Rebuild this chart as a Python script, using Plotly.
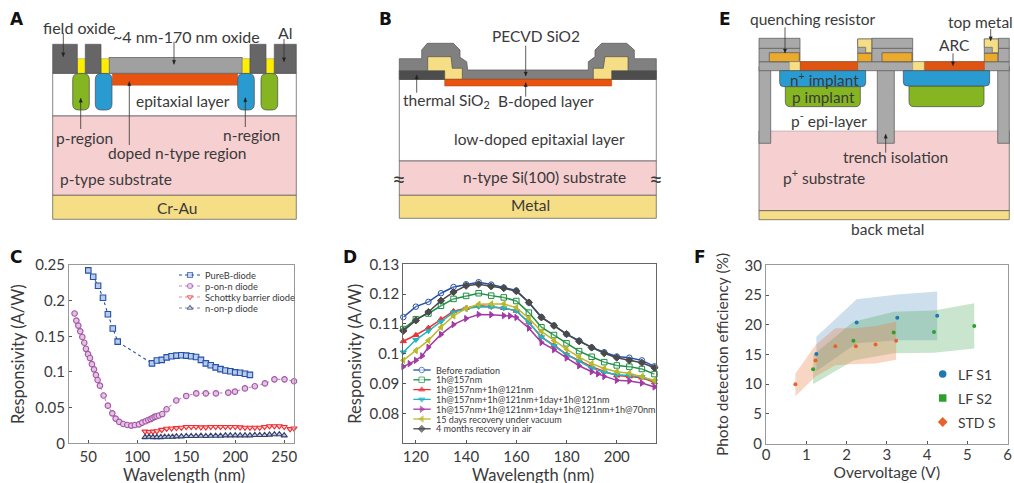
import plotly.graph_objects as go

# ---------- panel C data ----------
pureb_x = [50,55,60,65,70,75,80,115,120,125,130,135,140,145,150,155,160,165,170,175,180,185,190,195,200,205,210,215]
pureb_y = [.2425,.2336,.221,.204,.181,.161,.1425,.112,.116,.117,.1205,.122,.123,.1235,.123,.122,.121,.117,.112,.1095,.1065,.104,.102,.101,.0995,.099,.0975,.096]
ponn_x = [36,37.8,39.8,41.8,43.9,45.9,47.6,49.7,51.7,53.7,55.8,57.8,59.5,61.9,65.6,70,74.5,77.9,81.6,85.7,89.8,93.9,97.6,101.7,105,108.5,111.2,113.6,115.6,117.7,119.7,122.1,125.5,129.9,139.8,150,160.2,170,180.3,192.9,199.7,209.9,220,230.3,240,250.3,260]
ponn_y = [.182,.172,.165,.157,.149,.141,.1325,.125,.1195,.111,.1037,.0958,.0888,.0808,.067,.0528,.042,.0346,.03,.027,.0257,.0248,.0257,.0266,.029,.031,.0327,.034,.0355,.037,.038,.039,.041,.0477,.06,.0664,.07,.07,.07,.071,.0724,.077,.08,.084,.0897,.0897,.087]
schottky_x = [108,112,116,120,125,130,135,140,145,150,155,160,165,170,175,180,185,190,195,200,205,210,215,220,225,230,235,240,245,250,256,260]
schottky_y = [.0165,.016,.0165,.017,.019,.0205,.021,.0215,.022,.023,.023,.023,.0225,.0225,.023,.023,.023,.023,.023,.023,.0225,.022,.022,.022,.022,.023,.024,.024,.024,.023,.02,.021]
nonp_x = [108,112,116,120,124,128,132,136,140,145,150,155,160,165,170,175,180,185,190,195,200,205,210,215,220,225,230,235,240,245,250]
nonp_y = [.0085,.009,.0085,.0085,.0085,.009,.009,.009,.0095,.0095,.01,.01,.01,.0105,.01,.0105,.0105,.0105,.011,.011,.011,.011,.011,.011,.0115,.0115,.0115,.012,.0125,.0125,.011]

# ---------- panel D data ----------
wl = [115,120,125,130,135,140,145,150,155,160,165,170,175,180,185,190,195,200,205,210,215]
wl_purple = [115,117.5,120,122.5,125,130,135,140,145,150,155,157.5,160,165,170,175,180,185,190,192.5,195,200,205,210,215]
before = [.1123,.1158,.1174,.1203,.1224,.1233,.124,.1232,.1222,.1212,.1172,.1123,.1095,.1066,.1044,.1021,.1005,.0991,.0987,.0978,.0958]
h157 = [.1083,.1116,.1135,.1161,.1184,.1194,.1203,.1195,.1189,.1177,.1138,.1089,.1063,.1035,.1009,.099,.0972,.0961,.0957,.0949,.0932]
h157_121 = [.1042,.1063,.1087,.1116,.1143,.1153,.1162,.1158,.1153,.1144,.1105,.1056,.1029,.0998,.0977,.0957,.0941,.0927,.0924,.092,.0904]
h157_121_day = [.1005,.1047,.1077,.1108,.1139,.1151,.1158,.1157,.1153,.1144,.1105,.1056,.1027,.0997,.0975,.0952,.0938,.093,.0927,.0922,.0908]
h157_121_day_70 = [.0957,.0967,.0978,.0993,.1022,.1065,.1098,.1118,.1132,.1131,.1128,.1127,.1122,.1086,.1038,.1014,.0986,.096,.094,.0933,.0924,.0911,.0909,.0902,.0889]
rec_vac = [.0978,.1011,.1045,.1089,.1127,.1152,.1166,.1167,.1167,.1155,.1119,.1075,.1044,.1016,.0989,.0967,.0951,.094,.0935,.0924,.0911]
rec_air = [.1077,.1112,.114,.1178,.1207,.1228,.1233,.1226,.122,.121,.1172,.1122,.1094,.1066,.1042,.1021,.1002,.0987,.0978,.097,.0953]

# ---------- panel F data ----------
s1_x = [1.25,2.25,3.26,4.25]
s1_y = [15.1,20.4,21.2,21.5]
s1_up = [18.0,24.3,25.1,25.6]
s1_lo = [12.2,16.9,17.4,17.4]
s2_x = [1.17,2.17,3.17,4.17,5.17]
s2_y = [12.5,17.3,18.7,18.8,19.8]
s2_up = [14.9,20.5,22.2,22.4,23.6]
s2_lo = [10.0,14.0,15.2,15.3,16.0]
st_x = [.73,1.23,1.72,2.23,2.72,3.23]
st_y = [10,14,16.4,16.4,16.7,17.3]
st_up = [11.8,16.6,19.4,19.4,19.8,20.5]
st_lo = [8.0,11.3,13.2,13.4,13.5,14.1]

FONT = "Lato"
INK = "#3a3a3a"
W, H = 1014, 483

fig = go.Figure()

# ---------- helpers on the full-canvas pixel overlay ----------
shapes, notes = [], []
def poly(points, fill, line="#555555", lw=0.7):
    d = "M" + " L".join(f"{x:.1f},{y:.1f}" for x, y in points) + " Z"
    shapes.append(dict(type="path", path=d, xref="x4", yref="y4", fillcolor=fill,
                       line=dict(color=line, width=lw)))
def rect(x0, y0, x1, y1, fill, line="#555555", lw=0.7):
    poly([(x0, y0), (x1, y0), (x1, y1), (x0, y1)], fill, line, lw)
def rr(x0, y0, x1, y1, r, fill, top=True):
    rt = r if top else 0.5
    d = (f"M{x0},{y0+rt} Q{x0},{y0} {x0+rt},{y0} L{x1-rt},{y0} Q{x1},{y0} {x1},{y0+rt} "
         f"L{x1},{y1-r} Q{x1},{y1} {x1-r},{y1} L{x0+r},{y1} Q{x0},{y1} {x0},{y1-r} Z")
    shapes.append(dict(type="path", path=d, xref="x4", yref="y4", fillcolor=fill,
                       line=dict(color="#4a4a4a", width=0.7)))
def arrow(x, y0, y1):
    s = 1 if y1 > y0 else -1
    shapes.append(dict(type="line", x0=x, x1=x, y0=y0, y1=y1, xref="x4", yref="y4",
                       line=dict(color="#333333", width=0.8)))
    poly([(x-1.7, y1-s*4), (x+1.7, y1-s*4), (x, y1)], "#222222", "#222222", 0.3)
def text(x, y, t, size=15.5, bold=False, anchor="center", color=INK, family=FONT):
    notes.append(dict(x=x, y=y, xref="x4", yref="y4", text=t,
                      showarrow=False, xanchor=anchor, yanchor="middle",
                      font=dict(family=family, size=size, color=color, weight=700 if bold else 400)))
def letter(x, y, t):
    text(x, y, t, 17, True, family="DejaVu Sans", color="#111111")

GR_D, GR_M, GR_L = "#666666", "#a0a0a0", "#a9a9a9"
YEL, ORG, BLU, GRN, PNK, GLD, AMB = "#ffee00", "#e8540f", "#2a9bd0", "#85b521", "#f6cfd1", "#f5de85", "#ebaa2c"

# ---------- diagram A ----------
rect(52.7, 73.3, 296.3, 116, "white")
rect(52.7, 116, 296.3, 195.3, PNK)
rect(52.7, 195.3, 296.3, 219.3, GLD)
rect(109, 57.5, 242.3, 73.3, GR_M)
for a, b in [(77.3, 85.3), (101, 109), (242.3, 250), (266, 274.3)]:
    rect(a, 58.7, b, 73.3, YEL, "#777777", 0.4)
for a, b in [(52.7, 77.3), (85.3, 101), (250, 266), (274.3, 296.3)]:
    rect(a, 44.3, b, 73.3, GR_D)
rect(112.3, 74, 237.7, 85.3, ORG, "#b5440f", 0.4)
rr(72.7, 73.5, 89.3, 110, 6, GRN)
rr(95.3, 73.5, 112, 110, 6, BLU)
rr(237.7, 73.5, 254.3, 110, 6, BLU)
rr(261, 73.5, 277.7, 110, 6, GRN)
arrow(63.3, 33, 56.7); arrow(174, 41.7, 64.3); arrow(284, 39, 61.7)
arrow(80.7, 129, 98.3); arrow(129.3, 145, 81.7); arrow(245.3, 127, 97.7)
text(78.5, 27.3, "field oxide", 16); text(186.7, 36, "~4 nm-170 nm oxide", 16); text(285, 32, "Al", 16)
text(183, 101, "epitaxial layer"); text(84, 138, "p-region"); text(251.7, 135, "n-region")
text(177, 153, "doped n-type region"); text(116, 179, "p-type substrate"); text(177, 208, "Cr-Au")
letter(17, 19, "A")

# ---------- diagram B ----------
bx = lambda z: z / 3 + 340
rect(399.3, 79.5, 656.3, 161, "white")
rect(399.3, 161, 656.3, 195.3, PNK)
rect(399.3, 195.3, 656.3, 218.3, GLD)
pecvd = [(178,176),(245,176),(245,150),(262,130),(340,130),(360,150),(360,172),(380,185),(383,210),(745,210),(745,185),(765,170),(765,150),(785,130),(860,130),(883,150),(883,176),(949,176),(949,238),(178,238)]
poly([(bx(x), y/3) for x, y in pecvd], "#808080")
rect(399.3, 70.7, 444.7, 79.3, "#4d4d4d"); rect(611.7, 70.7, 656.3, 79.3, "#4d4d4d")
for c in ([(263,170),(333,170),(337,205),(367,205),(367,238),(314,238),(314,212),(263,212)],
          [(864,170),(795,170),(790,205),(760,205),(760,238),(815,238),(815,212),(864,212)]):
    poly([(bx(x), y/3) for x, y in c], GLD, "#444444", 0.6)
rect(444.7, 79.3, 611.7, 86, ORG, "#a8400f", 0.5)
arrow(525.7, 45.7, 76); arrow(525.7, 96.7, 82.7); arrow(416.7, 92.7, 75)
text(536, 35.7, "PECVD SiO2"); text(446, 101, "thermal SiO<sub>2</sub>"); text(546, 101, "B-doped layer")
text(539, 139.3, "low-doped epitaxial layer"); text(544, 176.7, "n-type Si(100) substrate"); text(530.7, 205, "Metal")
text(399.3, 177, "≈", 24); text(656.3, 177, "≈", 24)
letter(385, 19, "B")

# ---------- diagram E ----------
ex = lambda z: z / 3 + 680
def erect(x0, y0, x1, y1, fill, line="#555555", lw=0.7):
    rect(ex(x0), y0/3, ex(x1), y1/3, fill, line, lw)
erect(237, 392, 988, 632, PNK)
erect(237, 212, 988, 392, "white", "#ffffff", 0)
erect(237, 632, 988, 659, GLD)
for a, b in [(237, 272), (592, 643), (953, 988)]:
    erect(a, 200, b, 430, GR_L)
erect(237, 185, 988, 212, GR_L)
erect(237, 115, 360, 185, GR_L); erect(575, 115, 698, 185, GR_L); erect(955, 115, 988, 185, GR_L)
erect(533, 117, 575, 160, GR_L); erect(913, 117, 955, 160, GR_L)
for a, b in [(237, 360), (575, 698), (955, 988)]:
    shapes.append(dict(type="line", x0=ex(a), x1=ex(b), y0=145/3, y1=145/3, xref="x4", yref="y4", line=dict(color="#555555", width=0.8)))
erect(268, 158, 358, 185, AMB); erect(606, 158, 696, 185, AMB)
erect(533, 160, 575, 185, AMB); erect(913, 160, 953, 185, AMB)
for off in (0, 380):
    poly([(ex(533+off), 117/3), (ex(575+off), 117/3), (ex(575+off), 158/3), (ex(557+off), 158/3),
          (ex(557+off), 142/3), (ex(533+off), 142/3)], GLD, "#555555", 0.6)
erect(360, 185, 533, 212, "#dd5511", "#a8400f", 0.5); erect(733, 185, 913, 212, "#dd5511", "#a8400f", 0.5)
erect(328, 185, 360, 212, GLD, "#777777", 0.4); erect(698, 185, 733, 212, GLD, "#777777", 0.4)
rr(ex(316), 258/3, ex(541), 320/3, 5, GRN, top=False); rr(ex(687), 258/3, ex(912), 320/3, 5, GRN, top=False)
rr(ex(299), 212/3, ex(557), 260/3, 4, BLU, top=False); rr(ex(670), 212/3, ex(929), 258/3, 4, BLU, top=False)
arrow(785, 27.3, 53); arrow(990.7, 29, 40.7); arrow(953, 53.3, 65.7); arrow(885.7, 152.7, 134.3)
text(813.3, 19, "quenching resistor"); text(980.7, 22, "top metal"); text(954.3, 45, "ARC")
text(824, 79, "n<sup>+</sup> implant", 15.3); text(823.3, 96.5, "p implant", 15.3)
text(829.3, 119.3, "p<sup>-</sup> epi-layer"); text(895.7, 157, "trench isolation")
text(824, 176.7, "p<sup>+</sup> substrate"); text(887.3, 228.7, "back metal")
letter(725, 19, "E")

# ---------- panel letters for charts ----------
letter(16, 257, "C"); letter(350, 257, "D"); letter(700, 257, "F")

# ---------- x-axis titles of C and D sit at the very foot of the page ----------
text(184, 475, "Wavelength (nm)", 16.5)
text(533, 475, "Wavelength (nm)", 16.5)

# ---------- panel C ----------
def series(x, y, name, color, symbol, xa, ya, dash="dot", lw=1.1, size=6, mlw=1.1, fill=None, mcolor=None):
    fig.add_trace(go.Scatter(x=x, y=y, name=name, mode="lines+markers", xaxis=xa, yaxis=ya, showlegend=False,
                             cliponaxis=False, line=dict(color=color, width=lw, dash=dash),
                             marker=dict(symbol=symbol, size=size, color=fill or "rgba(255,255,255,0.35)",
                                         line=dict(color=mcolor or color, width=mlw))))

c_style = [("PureB-diode", "#2350a8", "square", pureb_x, pureb_y, "#2350a8", "#b9cbe8"),
           ("p-on-n diode", "#a655a6", "circle", ponn_x, ponn_y, "#c48ac4", "#e2c4e2"),
           ("Schottky barrier diode", "#ee3035", "triangle-down", schottky_x, schottky_y, "#f58a8d", "#fbd0d1"),
           ("n-on-p diode", "#33406f", "triangle-up", nonp_x, nonp_y, "#8088a8", "#c4c9da")]
for name, col, sym, x, y, lite, fillc in c_style:
    series(x, y, name, lite, sym, "x", "y", size=5.5, mlw=1.1, fill=fillc, mcolor=col)

for i, (name, col, sym, _, _, lite, fillc) in enumerate(c_style):
    yk = 275 + i * 11
    fig.add_trace(go.Scatter(x=[179, 190, 200], y=[yk, yk, yk], xaxis="x4", yaxis="y4", mode="lines+markers",
                             showlegend=False, hoverinfo="skip",
                             line=dict(color=lite, width=1.2, dash="dot"),
                             marker=dict(symbol=[sym] * 3, size=[0, 5, 0], color=fillc,
                                         line=dict(color=col, width=1.1))))
    text(203, yk, name, 9.3, anchor="left")

# ---------- panel D ----------
d_style = [("Before radiation", "#2450a8", "circle", wl, before),
           ("1h@157nm", "#1f8f45", "square", wl, h157),
           ("1h@157nm+1h@121nm", "#f03035", "triangle-up", wl, h157_121),
           ("1h@157nm+1h@121nm+1day+1h@121nm", "#22b5c0", "triangle-down", wl, h157_121_day),
           ("1h@157nm+1h@121nm+1day+1h@121nm+1h@70nm", "#a23aa6", "triangle-right", wl_purple, h157_121_day_70),
           ("15 days recovery under vacuum", "#bdb72a", "triangle-left", wl, rec_vac),
           ("4 months recovery in air", "#4a4a4a", "diamond", wl, rec_air)]
for name, col, sym, x, y in d_style:
    filled = sym.startswith("triangle") or sym == "diamond"
    series(x, y, name, col, sym, "x2", "y2", dash="solid", lw=1.5, size=5.5, mlw=1,
           fill=col if filled else "rgba(255,255,255,0.2)")
for i, (name, col, sym, _, _) in enumerate(d_style):
    yk = 370 + i * 9.8
    filled = sym.startswith("triangle") or sym == "diamond"
    fig.add_trace(go.Scatter(x=[413.3, 421.7, 430.7], y=[yk, yk, yk], xaxis="x4", yaxis="y4", mode="lines+markers",
                             showlegend=False, hoverinfo="skip", line=dict(color=col, width=1.3),
                             marker=dict(symbol=[sym] * 3, size=[0, 5.5, 0], color=col if filled else "white",
                                         line=dict(color=col, width=1))))
    text(434, yk, name, 9.05, anchor="left")

# ---------- panel F ----------
f_style = [("LF S1", "#1f77b4", "circle", s1_x, s1_y, s1_up, s1_lo, "rgba(70,135,190,0.27)"),
           ("LF S2", "#2ca02c", "square", s2_x, s2_y, s2_up, s2_lo, "rgba(60,160,70,0.27)"),
           ("STD S", "#e8622c", "diamond", st_x, st_y, st_up, st_lo, "rgba(235,120,60,0.30)")]
for name, col, sym, x, y, up, lo, band in f_style:
    fig.add_trace(go.Scatter(x=x + x[::-1], y=up + lo[::-1], fill="toself", fillcolor=band, mode="lines",
                             line=dict(width=0), xaxis="x3", yaxis="y3", showlegend=False, hoverinfo="skip"))
for name, col, sym, x, y, up, lo, band in f_style:
    fig.add_trace(go.Scatter(x=x, y=y, mode="markers", name=name, xaxis="x3", yaxis="y3", showlegend=False,
                             marker=dict(symbol="circle", size=4, color=col)))
for i, (name, col, sym, *_ ) in enumerate(f_style):
    yk = 374 + i * 24
    fig.add_trace(go.Scatter(x=[942.7], y=[yk], xaxis="x4", yaxis="y4", mode="markers", showlegend=False,
                             hoverinfo="skip", marker=dict(symbol=sym, size=7.5, color=col)))
    text(956, yk, name, 14, anchor="left")

# ---------- layout ----------
def dom(a, b, total):
    return [a / total, b / total]
def ydom(top, bottom):
    return [1 - bottom / H, 1 - top / H]
def axis(frame, **kw):
    base = dict(showgrid=False, zeroline=False, showline=True, linecolor=frame, linewidth=1.2, mirror=True,
                ticks="inside", ticklen=3, tickwidth=1, tickcolor="#555555", automargin=False,
                tickfont=dict(family=FONT, size=15, color=INK))
    base.update(kw)
    return base
tf = lambda t, s=16.5, st=1: dict(text=t, standoff=st, font=dict(family=FONT, size=s, color=INK))

fig.update_layout(
    width=W, height=H, margin=dict(l=0, r=0, t=0, b=0, autoexpand=False), autosize=False,
    paper_bgcolor="white", plot_bgcolor="rgba(0,0,0,0)", showlegend=False,
    font=dict(family=FONT, color=INK),
    xaxis=axis("#9a9a9a", domain=dom(69, 294, W), range=[30.3, 260], tickvals=[50,100,150,200,250], anchor="y"),
    yaxis=axis("#9a9a9a", domain=ydom(265, 443.3), range=[0, .25], tickvals=[0,.05,.1,.15,.2,.25],
               ticktext=["0","0.05","0.1","0.15","0.2","0.25"], anchor="x", title=tf("Responsivity (A/W)", st=6)),
    xaxis2=axis("#666666", domain=dom(403.3, 655.7, W), range=[115, 215.5], tickvals=[120,140,160,180,200], anchor="y2"),
    yaxis2=axis("#666666", domain=ydom(264.3, 443.3), range=[.07, .13], tickvals=[.08,.09,.1,.11,.12,.13],
                ticktext=["0.08","0.09","0.1","0.11","0.12","0.13"], anchor="x2", title=tf("Responsivity (A/W)", st=3)),
    xaxis3=axis("#9a9a9a", domain=dom(766, 1007.7, W), range=[0, 6], tickvals=[0,1,2,3,4,5,6], anchor="y3",
                title=tf("Overvoltage (V)", 15.5, st=3), ticklabelstandoff=-3),
    yaxis3=axis("#9a9a9a", domain=ydom(265.3, 443.7), range=[0, 30], tickvals=[0,5,10,15,20,25,30], anchor="x3",
                title=tf("Photo detection efficiency (%)", 15.5, st=12)),
    xaxis4=dict(domain=[0, 1], range=[0, W], visible=False, anchor="y4", fixedrange=True),
    yaxis4=dict(domain=[0, 1], range=[H, 0], visible=False, anchor="x4", fixedrange=True),
    shapes=shapes, annotations=notes,
)
fig.write_html("out.html", config={"displayModeBar": False}, post_script="document.body.style.margin='0';")
